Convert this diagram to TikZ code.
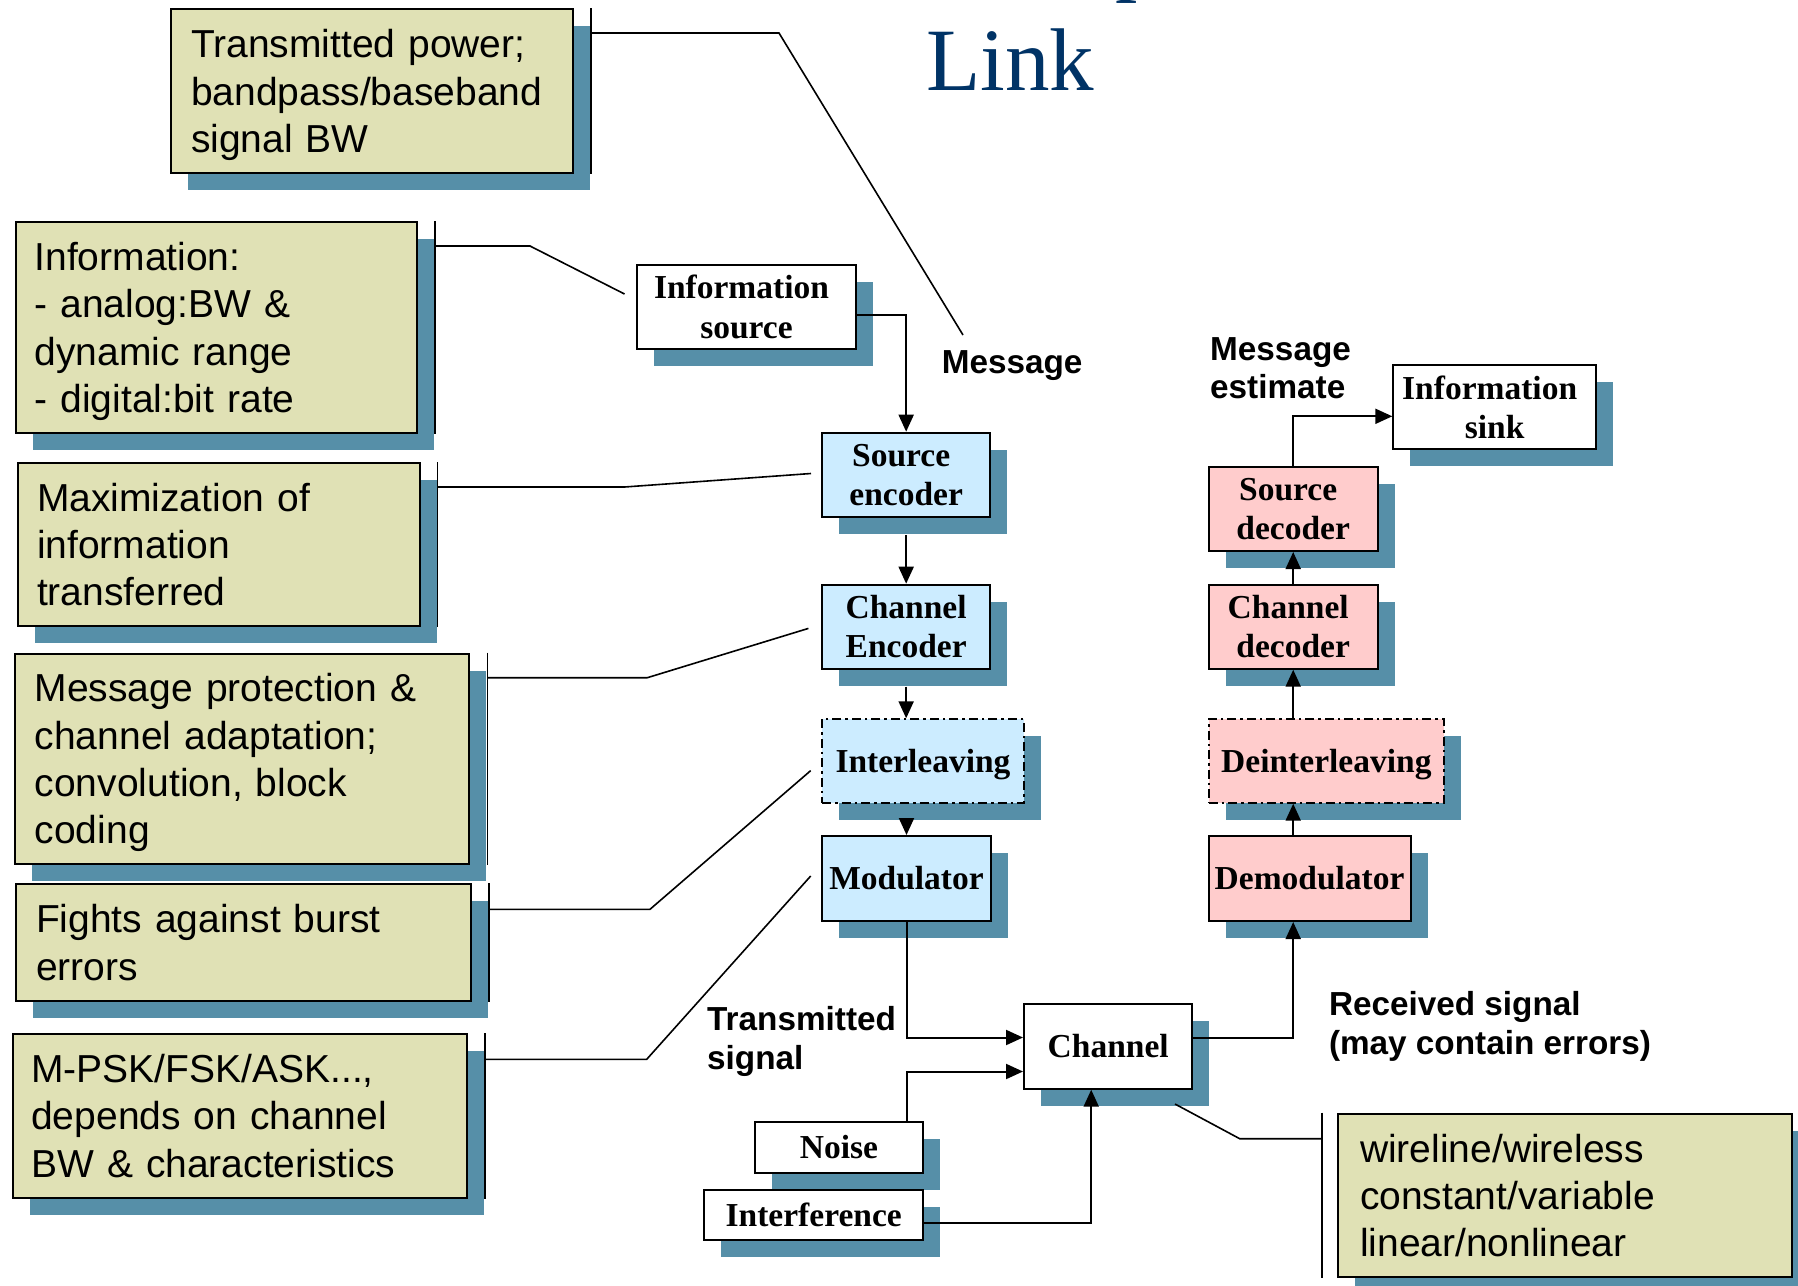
\documentclass[tikz,border=0pt]{standalone}
\usepackage{fontspec}
\setmainfont{Liberation Serif}
\newfontfamily\arialf{Liberation Sans}
\usetikzlibrary{arrows.meta,shadows,calc}
\definecolor{khaki}{RGB}{224,225,181}
\definecolor{shc}{RGB}{86,143,168}
\definecolor{bluef}{RGB}{204,236,255}
\definecolor{pinkf}{RGB}{255,204,204}
\definecolor{navy}{RGB}{0,51,102}
\newcommand{\nodepth}[1]{\raisebox{0pt}[\height][0pt]{#1}}
\tikzset{
  shad/.style={general shadow={fill=shc, shadow xshift=17pt, shadow yshift=-17pt}},
  note/.style={shad, rectangle, draw=black, line width=2pt, fill=khaki, anchor=north west,
    inner sep=0pt, align=left, font=\arialf\fontsize{39}{47.3}\selectfont},
  flow/.style={shad, rectangle, draw=black, line width=2pt, anchor=north west,
    inner sep=0pt, align=center, font=\bfseries\fontsize{33.5}{39.5}\selectfont},
  txbox/.style={flow, fill=bluef},
  rxbox/.style={flow, fill=pinkf},
  whitebox/.style={flow, fill=white},
  dashdotbox/.style={dash pattern=on 9pt off 4pt on 2.5pt off 4pt},
  conn/.style={line width=2pt, -{Triangle[length=17pt,width=15pt]}},
  leader/.style={line width=1.6pt},
  lbl/.style={font=\arialf\bfseries\fontsize{33.3}{38.7}\selectfont, inner sep=0pt, align=left, anchor=base west},
  titlefont/.style={font=\fontsize{89}{100}\selectfont, text=navy, anchor=base west, inner sep=0pt},
}
\begin{document}
\begin{tikzpicture}[x=1pt,y=-1pt]
\path[use as bounding box, fill=white] (0,0) rectangle (1798,1285);

% title
\node[titlefont] (titlecut) at (1115,-16) {p};
\node[titlefont] (title) at (926,90) {Link};

% note boxes
\node[note, minimum width=402pt, minimum height=164pt, text width=362pt] (a) at (170,8)
  {Transmitted power;\\bandpass/baseband\\\nodepth{signal BW}};
\node[note, minimum width=401.5pt, minimum height=210.5pt, text width=363.5pt] (b) at (14.5,221)
  {Information:\\- analog:BW \&\\dynamic range\\\nodepth{- digital:bit rate}};
\node[note, minimum width=401.5pt, minimum height=163pt, text width=363.5pt] (c) at (17,462)
  {Maximization of\\information\\transferred};
\node[note, minimum width=454pt, minimum height=210pt, text width=415pt] (d) at (14.3,652.7)
  {Message protection \&\\channel adaptation;\\convolution, block\\\nodepth{coding}};
\node[note, minimum width=455pt, minimum height=116.7pt, text width=415pt] (e) at (15,883.3)
  {Fights against burst\\errors};
\node[note, minimum width=454pt, minimum height=163.4pt, text width=416.8pt] (f) at (11.7,1033.3)
  {M-PSK/FSK/ASK...,\\depends on channel\\BW \& characteristics};
\node[note, minimum width=454.3pt, minimum height=163.3pt, text width=409.7pt] (g) at (1336.7,1112.7)
  {wireline/wireless\\constant/variable\\linear/nonlinear};

% flow boxes
\node[whitebox, minimum width=219pt, minimum height=84.3pt] (is) at (636,264) {Information\kern10pt\\source};
\node[txbox, minimum width=168.3pt, minimum height=84.3pt] (se) at (821,431.7) {Source\kern10pt\\encoder};
\node[txbox, minimum width=168.3pt, minimum height=84pt] (ce) at (821,583.7) {Channel\\Encoder};
\node[txbox, dashdotbox, minimum width=202pt, minimum height=83.4pt] (il) at (821,718.3) {\nodepth{Interleaving}};
\node[txbox, minimum width=169pt, minimum height=85pt] (mod) at (821,835) {Modulator};
\node[whitebox, minimum width=168.4pt, minimum height=84.4pt] (ch) at (1023,1003.3) {Channel};
\node[whitebox, minimum width=168pt, minimum height=50.7pt] (no) at (754,1121) {Noise};
\node[whitebox, minimum width=219pt, minimum height=50pt] (if) at (703.2,1188.7) {Interference};
\node[whitebox, minimum width=202.7pt, minimum height=84pt] (sink) at (1392.3,364.3) {Information\kern10pt\\sink};
\node[rxbox, minimum width=169pt, minimum height=84.3pt] (sd) at (1207.7,465.7) {Source\kern10pt\\decoder};
\node[rxbox, minimum width=169pt, minimum height=84pt] (cd) at (1207.7,583.7) {Channel\kern10pt\\decoder};
\node[rxbox, dashdotbox, minimum width=235.3pt, minimum height=83.4pt] (di) at (1207.7,718.3) {\nodepth{Deinterleaving}};
\node[rxbox, minimum width=201.8pt, minimum height=85pt] (dm) at (1207.7,835) {Demodulator};

% labels (base anchor = baseline of last line)
\node[lbl] (msg) at (941.6,373.3) {Message};
\node[lbl] (msgest) at (1210,398.7) {Message\\estimate};
\node[lbl] (txsig) at (707,1069.3) {Transmitted\\signal};
\node[lbl] (rxsig) at (1328.8,1054.5) {Received signal\\(may contain errors)};

% leader end points
\coordinate (pa) at (963,335);
\coordinate (pb) at (624.5,294);
\coordinate (pc) at (811,473.5);
\coordinate (pd) at (808.4,628.4);
\coordinate (pe) at (810.7,770.6);
\coordinate (pf) at (810.7,876);
\coordinate (pg) at (1175,1104);

% accent bars and leaders
\foreach \n in {a,b,c,d,e,f}{
  \draw[leader] ([xshift=17pt]\n.north east) -- ([xshift=17pt]\n.south east);
}
\draw[leader] ([xshift=-15pt]g.north west) -- ([xshift=-15pt]g.south west);
\draw[leader] ([xshift=17pt,yshift=-25pt]a.north east) -- ++(188,0) -- (pa);
\draw[leader] ([xshift=17pt,yshift=-25pt]b.north east) -- ++(95,0) -- (pb);
\draw[leader] ([xshift=17pt,yshift=-25pt]c.north east) -- ++(187,0) -- (pc);
\draw[leader] ([xshift=17pt,yshift=-25pt]d.north east) -- ++(160,0) -- (pd);
\draw[leader] ([xshift=17pt,yshift=-26pt]e.north east) -- ++(161,0) -- (pe);
\draw[leader] ([xshift=17pt,yshift=-26pt]f.north east) -- ++(162,0) -- (pf);
\draw[leader] ([xshift=-15pt,yshift=-26pt]g.north west) -- ++(-82,0) -- (pg);

% connectors
\draw[conn] ([yshift=-8pt]is.east) -| (se.north);
\draw[conn] ([yshift=-17pt]se.south) -- (ce.north);
\draw[conn] ([yshift=-17pt]ce.south) -- (ce.south |- il.north);
\draw[conn] ([yshift=17pt]mod.north) -- (mod.north);
\draw[conn] (mod.south) |- ([yshift=9pt]ch.west);
\draw[conn] (mod.south |- no.north) |- ([yshift=-25pt]ch.west);
\draw[conn] ([yshift=-8pt]if.east) -| ([xshift=-17pt]ch.south);
\draw[conn] ([yshift=9pt]ch.east) -| (sd.south |- dm.south);
\draw[conn] (sd.south |- dm.north) -- (sd.south |- di.south);
\draw[conn] (sd.south |- di.north) -- (sd.south |- cd.south);
\draw[conn] (sd.south |- cd.north) -- (sd.south);
\draw[conn] (sd.north) |- ([yshift=-9pt]sink.west);
\end{tikzpicture}
\end{document}
